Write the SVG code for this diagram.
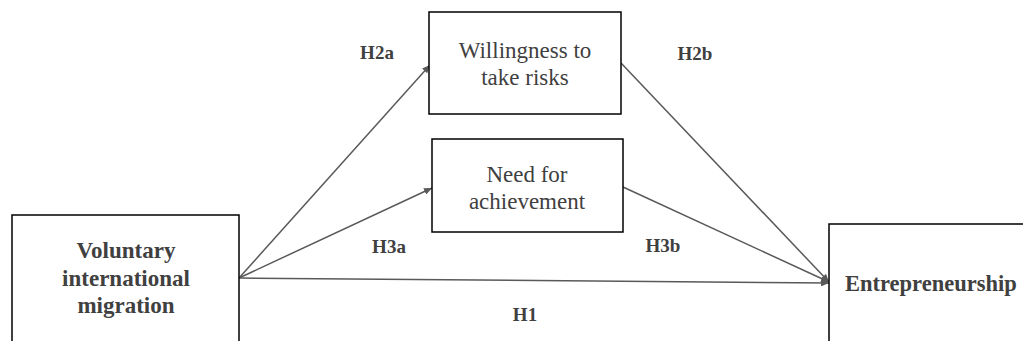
<svg xmlns="http://www.w3.org/2000/svg" width="1023" height="341" viewBox="0 0 1023 341">
<defs>
<marker id="ah" viewBox="0 0 10 10" refX="10" refY="5" markerWidth="8" markerHeight="7" markerUnits="userSpaceOnUse" orient="auto" preserveAspectRatio="none">
<path d="M0,0 L10,5 L0,10 z" fill="#595959"/>
</marker>
</defs>
<style>
.box{fill:#fff;stroke:#000;stroke-width:1.5}
.t{font-family:"Liberation Serif","Times New Roman",serif;fill:#404040;text-anchor:middle}
.n{font-size:23px}
.b{font-size:23px;font-weight:bold}
.lbl{font-size:19px;font-weight:bold}
.c{stroke:#595959;stroke-width:1.5;fill:none;marker-end:url(#ah)}
</style>
<rect width="1023" height="341" fill="#fff"/>
<g id="connectors">
<line class="c" x1="239" y1="278" x2="430" y2="65"/>
<line class="c" x1="239" y1="278" x2="432" y2="188"/>
<line class="c" x1="239" y1="278" x2="829" y2="283"/>
<line class="c" x1="621" y1="63" x2="829" y2="282"/>
<line class="c" x1="623" y1="187" x2="829" y2="282"/>
</g>
<g id="labels">
<text class="t lbl" x="377" y="59">H2a</text>
<text class="t lbl" x="695" y="60">H2b</text>
<text class="t lbl" x="389" y="253">H3a</text>
<text class="t lbl" x="663" y="252">H3b</text>
<text class="t lbl" x="525" y="321">H1</text>
</g>
<g id="node-migration">
<rect class="box" x="12" y="215" width="227" height="140"/>
<text class="t b" x="126" y="258">Voluntary</text>
<text class="t b" x="126" y="286">international</text>
<text class="t b" x="126" y="313">migration</text>
</g>
<g id="node-risk">
<rect class="box" x="429" y="12" width="192" height="102"/>
<text class="t n" x="525" y="58">Willingness to</text>
<text class="t n" x="525" y="85">take risks</text>
</g>
<g id="node-achievement">
<rect class="box" x="432" y="139" width="191" height="93"/>
<text class="t n" x="527" y="182">Need for</text>
<text class="t n" x="527" y="209">achievement</text>
</g>
<g id="node-entrepreneurship">
<rect class="box" x="829" y="224" width="210" height="130"/>
<text class="t b" x="845" y="291" style="text-anchor:start;font-size:22.5px">Entrepreneurship</text>
</g>
</svg>
